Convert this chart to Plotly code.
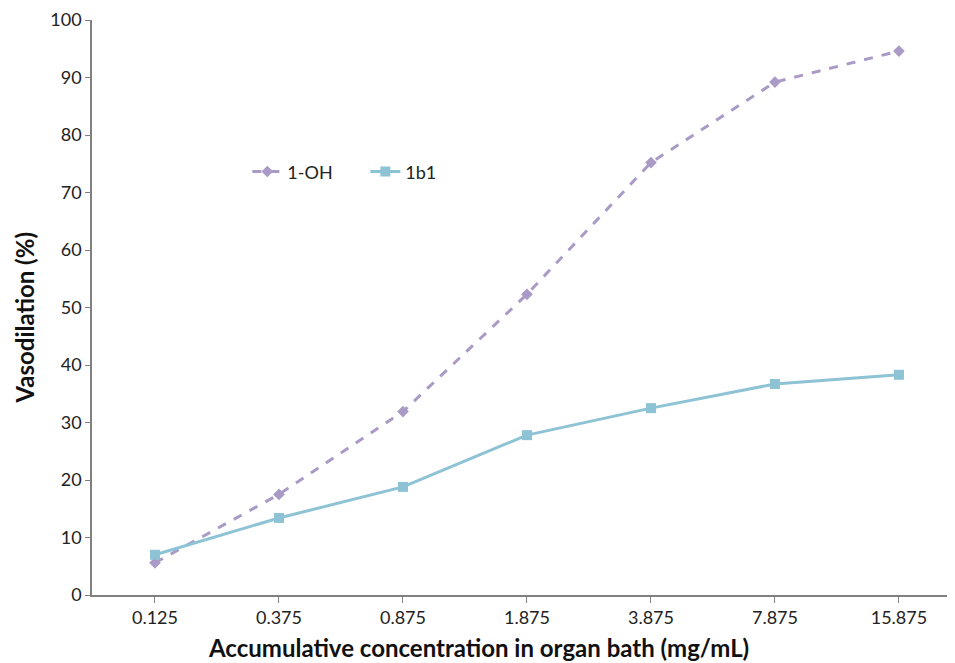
import plotly.graph_objects as go

categories = ["0.125", "0.375", "0.875", "1.875", "3.875", "7.875", "15.875"]
oh_values = [5.6, 17.5, 31.9, 52.3, 75.2, 89.2, 94.6]
b1_values = [7.0, 13.4, 18.8, 27.8, 32.5, 36.7, 38.3]
y_ticks = [0, 10, 20, 30, 40, 50, 60, 70, 80, 90, 100]

purple = "#A99BC6"
blue = "#8DC3D5"
font = "Lato, 'Open Sans', sans-serif"

fig = go.Figure()
fig.add_trace(go.Scatter(
    x=categories, y=oh_values, name="1-OH", mode="lines+markers",
    line=dict(color=purple, width=3, dash="dash"),
    marker=dict(symbol="diamond", size=9, color=purple),
))
fig.add_trace(go.Scatter(
    x=categories, y=b1_values, name="1b1", mode="lines+markers",
    line=dict(color=blue, width=3),
    marker=dict(symbol="square", size=10, color=blue),
))

fig.update_layout(
    width=955, height=663,
    margin=dict(l=84, r=8, t=12, b=76, autoexpand=False),
    plot_bgcolor="white", paper_bgcolor="white",
    font=dict(family=font, size=18, color="#222"),
    legend=dict(orientation="h", x=0.18, y=0.736, xanchor="left", yanchor="middle",
                bgcolor="rgba(0,0,0,0)", font=dict(size=18), itemwidth=30,
                tracegroupgap=0, entrywidth=73),
    xaxis=dict(
        type="category", range=[-0.508, 6.452], automargin=False,
        showline=True, linecolor="#808080", linewidth=1.5,
        ticks="outside", ticklen=6, tickcolor="#808080",
        showgrid=False, zeroline=False,
    ),
    yaxis=dict(
        range=[0, 100], tickvals=y_ticks, automargin=False,
        showline=True, linecolor="#808080", linewidth=1.5,
        ticks="outside", ticklen=5, tickcolor="#808080",
        showgrid=False, zeroline=False,
    ),
    annotations=[
        dict(text="<b>Accumulative concentration in organ bath (mg/mL)</b>",
             xref="paper", yref="paper", x=0.448, y=-0.092,
             xanchor="center", yanchor="middle", showarrow=False,
             font=dict(size=24, color="#111")),
        dict(text="<b>Vasodilation (%)</b>", textangle=-90,
             xref="paper", yref="paper", x=-0.0785, y=0.483,
             xanchor="center", yanchor="middle", showarrow=False,
             font=dict(size=24, color="#111")),
    ],
)

fig.write_html("out.html")
